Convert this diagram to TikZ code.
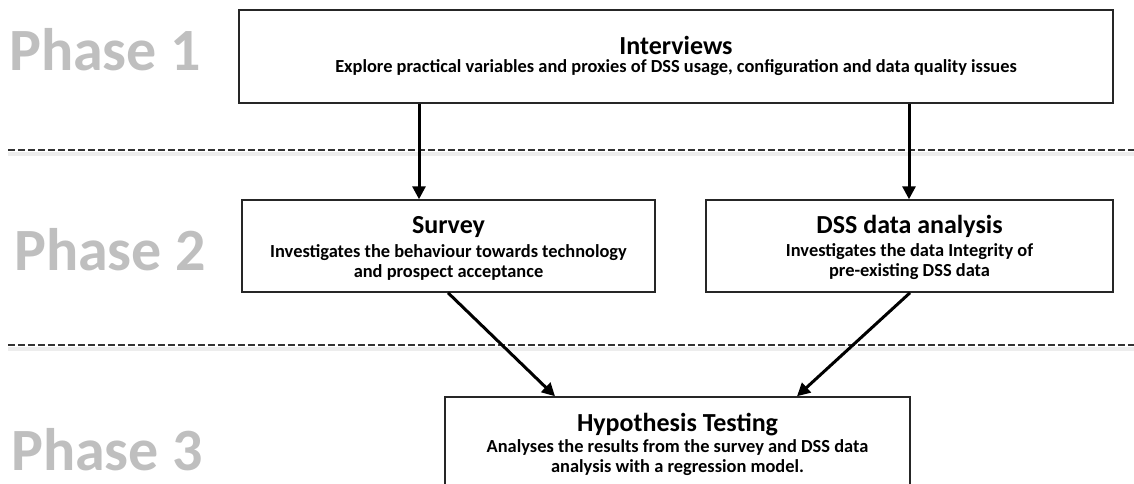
\documentclass[tikz,border=0pt]{standalone}
\usepackage{fontspec}
\setmainfont{Carlito}
\usetikzlibrary{arrows.meta,calc}
\definecolor{phasegray}{HTML}{BFBFBF}
\begin{document}
\begin{tikzpicture}[x=1pt,y=-1pt,
  box/.style={draw=black!85,line width=1.5pt,fill=white,inner sep=0pt},
  ttl/.style={anchor=base,inner sep=0pt,font=\bfseries\fontsize{26}{28}\selectfont},
  body/.style={anchor=base,inner sep=0pt,align=center,font=\bfseries\fontsize{18.4}{20}\selectfont},
  phase/.style={anchor=base west,inner sep=0pt,text=phasegray,font=\bfseries\fontsize{60}{62}\selectfont},
  phaseline/.style={draw=black!80,line width=1.2pt,dash pattern=on 6.5pt off 3.5pt},
  haze/.style={draw=black!7,line width=4pt},
  arr/.style={line width=3pt,-{Triangle[length=13pt,width=13pt]}}]
\useasboundingbox (0,0) rectangle (1134,483);

% phase separators with their soft shading
\coordinate (s1l) at (8,150);
\coordinate (s1r) at (1134,150);
\coordinate (s2l) at (8,345);
\coordinate (s2r) at (1134,345);
\draw[haze] ($(s1l)+(0,4)$) -- ($(s1r)+(0,4)$);
\draw[haze] ($(s2l)+(0,4)$) -- ($(s2r)+(0,4)$);
\draw[phaseline] (s1l) -- (s1r);
\draw[phaseline] (s2l) -- (s2r);

% phase titles
\node[phase] (p1) at (9,70) {Phase 1};
\node[phase] (p2) at (14,270) {Phase 2};
\node[phase] (p3) at (11,470) {Phase 3};

% process boxes
\node[box,minimum width=874pt,minimum height=93pt] (int) at (676,56.5) {};
\node[box,minimum width=413pt,minimum height=92pt] (sv) at (448.5,246) {};
\node[box,minimum width=407pt,minimum height=92pt] (dss) at (909.5,246) {};
\node[box,minimum width=465pt,minimum height=94pt] (hyp) at (677.5,444) {};

% box texts (a multi-line text sits on the baseline of its last line)
\node[ttl]  (intt) at ($(int.north)+(0,45)$) {Interviews};
\node[body] (intb) at ($(int.north)+(0,63)$) {Explore practical variables and proxies of DSS usage, configuration and data quality issues};
\node[ttl]  (svt) at ($(sv.north)+(0,34)$) {Survey};
\node[body] (svb) at ($(sv.north)+(0,78)$) {Investigates the behaviour towards technology\\ and prospect acceptance};
\node[ttl]  (dsst) at ($(dss.north)+(0,34)$) {DSS data analysis};
\node[body] (dssb) at ($(dss.north)+(0,77)$) {Investigates the data Integrity of\\ pre-existing DSS data};
\node[ttl]  (hypt) at ($(hyp.north)+(0,35)$) {Hypothesis Testing};
\node[body] (hypb) at ($(hyp.north)+(0,76)$) {Analyses the results from the survey and DSS data\\ analysis with a regression model.};

% connectors
\coordinate (xa) at (419,0);
\coordinate (xb) at (909,0);
\coordinate (xc) at (555,0);
\coordinate (xd) at (797,0);
\coordinate (xe) at (448,0);
\coordinate (xf) at (910,0);
\draw[arr] (int.south -| xa) -- (sv.north -| xa);
\draw[arr] (int.south -| xb) -- (dss.north -| xb);
\draw[arr] (sv.south -| xe) -- (hyp.north -| xc);
\draw[arr] (dss.south -| xf) -- (hyp.north -| xd);
\end{tikzpicture}
\end{document}
